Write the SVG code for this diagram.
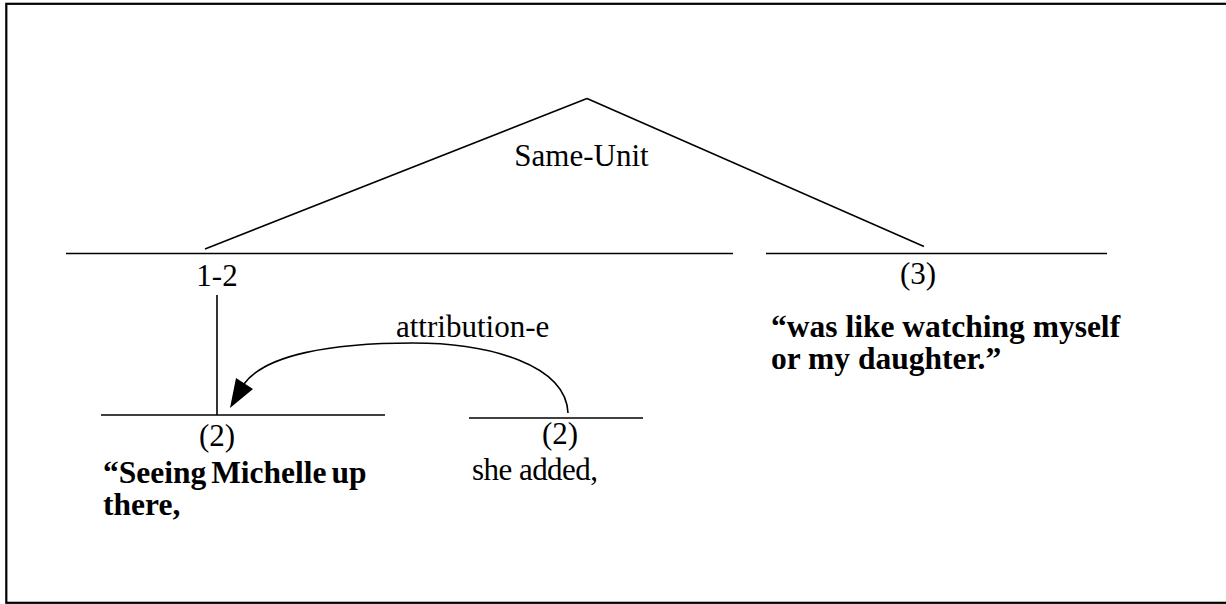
<svg xmlns="http://www.w3.org/2000/svg" width="1226" height="604" viewBox="0 0 1226 604">
  <style>
    .ln { stroke: #000; stroke-width: 1.6; fill: none; }
    .lbl { font-family: "Liberation Serif", "Times New Roman", serif; font-size: 31px; fill: #000; }
    .txt { font-family: "Liberation Serif", "Times New Roman", serif; font-size: 31.5px; font-weight: bold; fill: #000; }
    .mid { text-anchor: middle; }
  </style>
  <rect x="0" y="0" width="1226" height="604" fill="#fff"/>
  <!-- frame (open on the right) -->
  <rect x="6.3" y="3.8" width="1240" height="599" fill="none" stroke="#000" stroke-width="2.2"/>

  <!-- Same-Unit span over 1-2 and 3 -->
  <g id="node-same-unit">
    <line class="ln" x1="66" y1="253.5" x2="733" y2="253.5"/>
    <line class="ln" x1="766" y1="253.5" x2="1107" y2="253.5"/>
    <text class="lbl mid" x="581.5" y="166">Same-Unit</text>
  </g>

  <g id="node-1-2">
    <text class="lbl mid" x="217" y="286">1-2</text>
  </g>

  <g id="node-3">
    <text class="lbl mid" x="918" y="284">(3)</text>
    <text class="txt" x="771" y="337">“was like watching myself</text>
    <text class="txt" x="771" y="369">or my daughter.”</text>
  </g>

  <g id="node-2a">
    <line class="ln" x1="101" y1="415" x2="385" y2="415"/>
    <text class="lbl mid" x="217" y="446">(2)</text>
    <text class="txt" x="103" y="483" word-spacing="-3">“Seeing Michelle up</text>
    <text class="txt" x="103" y="515">there,</text>
  </g>

  <g id="node-2b">
    <line class="ln" x1="469" y1="418" x2="643" y2="418"/>
    <text class="lbl mid" x="560" y="444">(2)</text>
    <text class="lbl" x="472" y="480" textLength="126">she added,</text>
  </g>

  <g id="connectors">
    <line class="ln" x1="587" y1="98.5" x2="205" y2="249"/>
    <line class="ln" x1="587" y1="98.5" x2="924" y2="246.5"/>
    <line class="ln" x1="217" y1="295" x2="217" y2="415"/>
    <path class="ln" d="M 568 413 C 566 365, 490 343, 413 343 C 330 343, 265 355, 244 384"/>
    <polygon points="230,408 236,378 253,389" fill="#000"/>
    <text class="lbl" x="396" y="337">attribution-e</text>
  </g>
</svg>
